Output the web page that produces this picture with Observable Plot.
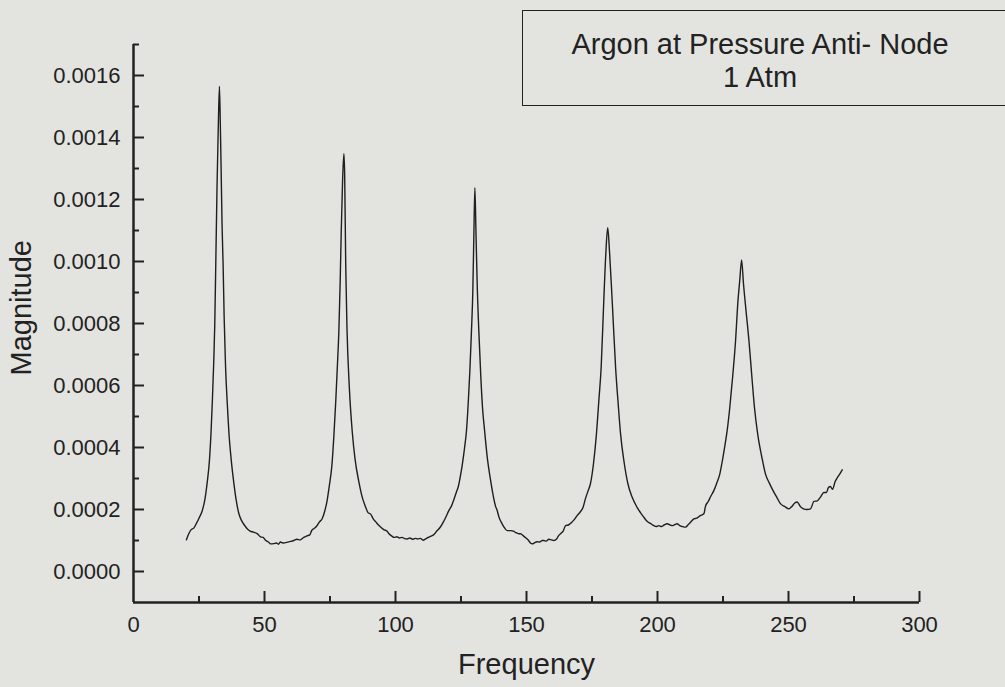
<!DOCTYPE html>
<html>
<head>
<meta charset="utf-8">
<script src="https://cdn.jsdelivr.net/npm/d3@7"></script>
<script src="https://cdn.jsdelivr.net/npm/@observablehq/plot@0.6"></script>
<style>
  html, body { margin: 0; padding: 0; background: #e3e4e0; overflow: hidden; }
  #wrap { position: relative; width: 1005px; height: 687px; }
  #legend {
    position: absolute; left: 522px; top: 10px; width: 520px; height: 96px;
    border: 1.5px solid #222; border-right: none; box-sizing: border-box;
    font-family: "Liberation Sans", Arial, sans-serif; font-size: 29px; color: #222;
  }
  #legend div { position: absolute; left: 0; width: 474px; text-align: center; line-height: 33px; white-space: nowrap; }
</style>
</head>
<body>
<div id="wrap">
  <div id="chart"></div>
  <div id="legend"><div id="l1" style="top:17px"></div><div id="l2" style="top:50px"></div></div>
</div>
<script>
// ---- data ----
const legendLines = ["Argon at Pressure Anti- Node", "1 Atm"];
const xTitle = "Frequency";
const yTitle = "Magnitude";

const freq = [
  20.2, 21.0, 22.0, 23.0, 24.0, 25.0, 26.2, 27.2, 28.1, 29.0, 29.6, 30.1, 30.6, 31.0, 31.4, 31.9, 32.4, 32.8,
  33.1, 33.4, 33.8, 34.2, 34.6, 35.1, 35.8, 36.4, 37.3, 38.3, 39.2, 40.2, 41.2, 42.3, 43.4, 44.5, 45.8, 47.2,
  48.5, 49.5, 50.5, 51.5, 52.3, 53.5, 54.5, 55.3, 56.1, 57.2, 58.5, 60.0, 61.2, 62.4, 63.5, 65.0, 66.2, 67.3,
  68.0, 68.8, 69.8, 71.0, 72.0, 73.0, 73.9, 74.8, 75.7, 76.5, 77.2, 77.8, 78.4, 78.9, 79.3, 79.8, 80.3, 80.6,
  81.0, 81.5, 82.4, 83.5, 84.6, 86.0, 87.3, 88.5, 89.5, 90.5, 91.5, 92.5, 93.5, 94.5, 95.5, 96.8, 97.5, 98.5,
  99.5, 100.5, 101.5, 102.5, 103.5, 104.5, 105.5, 106.5, 107.5, 108.5, 109.5, 110.5, 111.5, 112.5, 113.5, 114.5,
  115.9, 117.0, 118.3, 119.2, 120.4, 121.3, 122.2, 123.2, 124.0, 124.6, 125.5, 126.3, 127.1, 127.8, 128.4, 129.0,
  129.5, 129.9, 130.3, 130.7, 131.2, 131.8, 132.5, 133.2, 134.0, 135.0, 136.3, 137.4, 138.2, 138.8, 139.5, 140.3,
  141.3, 142.6, 143.9, 145.0, 146.0, 147.0, 147.7, 148.8, 149.8, 150.8, 151.5, 152.2, 153.0, 154.0, 155.0, 156.0,
  156.6, 157.5, 158.5, 159.5, 160.4, 161.5, 162.2, 163.0, 164.0, 164.9, 166.0, 167.2, 168.3, 169.3, 170.5, 171.6,
  172.5, 173.5, 174.4, 175.6, 176.7, 177.6, 178.5, 179.5, 180.3, 181.0, 181.7, 182.7, 184.0, 185.0, 185.9, 187.3,
  188.7, 190.3, 192.2, 193.5, 194.8, 196.0, 197.3, 198.6, 199.5, 200.5, 201.5, 202.5, 203.7, 204.8, 205.8, 206.8,
  207.5, 208.5, 209.5, 210.7, 211.8, 212.6, 213.9, 215.0, 216.3, 217.7, 218.3, 219.3, 220.3, 221.5, 222.6, 223.8,
  224.6, 225.5, 226.6, 227.6, 228.7, 229.8, 230.6, 231.4, 232.1, 232.8, 233.8, 234.9, 236.0, 237.0, 238.3, 239.8,
  241.2, 242.7, 244.1, 245.5, 247.0, 248.5, 250.1, 251.3, 252.3, 253.3, 254.5, 255.8, 257.0, 258.4, 259.7, 261.0,
  262.2, 263.5, 264.5, 265.2, 266.0, 266.8, 267.8, 268.8, 269.6, 270.5
];
// magnitude in units of 1e-4
const magnitudeE4 = [
  1.02, 1.20, 1.35, 1.40, 1.55, 1.72, 1.95, 2.30, 2.85, 3.60, 4.50, 5.50, 6.70, 7.90, 9.90, 12.5, 14.5, 15.65,
  14.6, 13.2, 11.2, 9.90, 8.20, 6.70, 5.40, 4.50, 3.60, 2.85, 2.30, 1.87, 1.65, 1.50, 1.38, 1.30, 1.27, 1.22,
  1.12, 1.10, 1.00, 0.95, 0.89, 0.90, 0.92, 0.88, 0.95, 0.92, 0.94, 0.97, 1.00, 1.04, 1.02, 1.10, 1.15, 1.18,
  1.32, 1.38, 1.45, 1.60, 1.70, 1.95, 2.29, 2.80, 3.40, 4.40, 5.50, 6.60, 7.80, 9.40, 11.0, 12.6, 13.48, 12.8,
  9.90, 7.80, 5.90, 4.50, 3.60, 2.90, 2.40, 2.10, 1.90, 1.85, 1.70, 1.60, 1.50, 1.42, 1.35, 1.30, 1.22, 1.15,
  1.10, 1.12, 1.08, 1.10, 1.06, 1.05, 1.08, 1.04, 1.07, 1.05, 1.07, 1.01, 1.05, 1.10, 1.14, 1.18,
  1.32, 1.42, 1.60, 1.75, 1.97, 2.10, 2.30, 2.55, 2.75, 3.00, 3.45, 3.95, 4.55, 5.50, 6.50, 7.77,
  9.00, 10.8, 12.38, 11.0, 9.20, 7.77, 6.40, 5.30, 4.55, 3.70, 2.94, 2.40, 2.10, 1.97, 1.75, 1.60,
  1.45, 1.32, 1.32, 1.30, 1.25, 1.22, 1.22, 1.15, 1.08, 1.00, 0.92, 0.89, 0.92, 0.96, 0.95, 1.00,
  1.00, 0.98, 1.04, 1.02, 1.00, 1.05, 1.15, 1.22, 1.30, 1.48, 1.50, 1.58, 1.68, 1.80, 1.92, 2.07,
  2.35, 2.60, 2.83, 3.50, 4.44, 5.50, 6.59, 8.74, 10.3, 11.09, 10.3, 8.74, 6.59, 5.40, 4.44, 3.50,
  2.83, 2.40, 2.07, 1.90, 1.75, 1.62, 1.55, 1.48, 1.45, 1.48, 1.45, 1.50, 1.54, 1.50, 1.48, 1.52,
  1.54, 1.48, 1.45, 1.43, 1.52, 1.59, 1.70, 1.72, 1.80, 1.86, 2.10, 2.25, 2.42, 2.61, 2.85, 3.15,
  3.50, 3.95, 4.55, 5.30, 6.30, 7.45, 8.60, 9.40, 10.05, 9.30, 8.40, 7.45, 6.30, 5.30, 4.40, 3.70,
  3.15, 2.85, 2.61, 2.40, 2.18, 2.10, 2.02, 2.10, 2.20, 2.24, 2.10, 2.02, 2.00, 2.02, 2.26, 2.28,
  2.40, 2.55, 2.55, 2.70, 2.74, 2.65, 2.90, 3.05, 3.15, 3.28
];

const xTickLabels = [0, 50, 100, 150, 200, 250, 300];
const xMajorTicks = [50, 100, 150, 200, 250, 300];
const xMinorTicks = [25, 75, 125, 175, 225, 275];
const yTickLabels = [0, 0.0002, 0.0004, 0.0006, 0.0008, 0.0010, 0.0012, 0.0014, 0.0016];
const yMinorTicks = [0.0001, 0.0003, 0.0005, 0.0007, 0.0009, 0.0011, 0.0013, 0.0015, 0.0017];
const xDomain = [0, 300];
const yDomain = [-0.0001, 0.0017];

// ---- build ----
const data = freq.map((f, i) => ({f, m: magnitudeE4[i] * 1e-4}));
const W = 1005, H = 687, mL = 133, mR = 86, mT = 44, mB = 85;
const plotW = W - mL - mR, plotH = H - mT - mB;
const ink = "#222";
const font = "'Liberation Sans', Arial, Helvetica, sans-serif";

const chart = Plot.plot({
  width: W, height: H,
  marginLeft: mL, marginRight: mR, marginTop: mT, marginBottom: mB,
  style: {background: "transparent", fontFamily: font, fontSize: "22px", color: ink, overflow: "visible"},
  x: {domain: xDomain},
  y: {domain: yDomain},
  marks: [
    Plot.axisX({ticks: xTickLabels, tickSize: 0, tickPadding: 14, label: null, fontSize: 22, fill: ink}),
    Plot.axisY({ticks: yTickLabels, tickSize: 0, tickPadding: 13, tickFormat: d3.format(".4f"), label: null, fontSize: 22, fill: ink}),
    Plot.ruleX(xMajorTicks, {x: d => d, insetTop: plotH - 11, stroke: ink, strokeWidth: 2}),
    Plot.ruleX(xMinorTicks, {x: d => d, insetTop: plotH - 6, stroke: ink, strokeWidth: 2}),
    Plot.ruleY(yTickLabels, {y: d => d, insetRight: plotW - 11, stroke: ink, strokeWidth: 2}),
    Plot.ruleY(yMinorTicks, {y: d => d, insetRight: plotW - 6, stroke: ink, strokeWidth: 2}),
    Plot.ruleX([xDomain[0]], {stroke: ink, strokeWidth: 2.5}),
    Plot.ruleY([yDomain[0]], {stroke: ink, strokeWidth: 2.5}),
    Plot.line(data, {x: "f", y: "m", stroke: "#1f1f1f", strokeWidth: 1.4, curve: "monotone-x"}),
    Plot.text([xTitle], {frameAnchor: "bottom", dy: 62, fontSize: 29, fill: ink, lineAnchor: "middle"}),
    Plot.text([yTitle], {frameAnchor: "left", dx: -112, dy: 52, rotate: -90, fontSize: 29, fill: ink, lineAnchor: "middle"})
  ]
});
document.getElementById("chart").appendChild(chart);
document.getElementById("l1").textContent = legendLines[0];
document.getElementById("l2").textContent = legendLines[1];
</script>
</body>
</html>
